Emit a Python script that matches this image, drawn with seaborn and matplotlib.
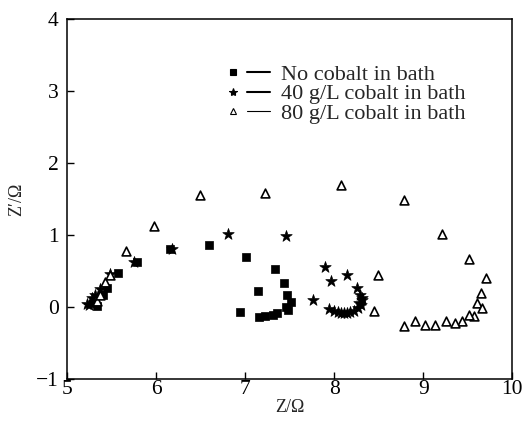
import numpy as np
import pandas as pd
import matplotlib
matplotlib.use("Agg")
import matplotlib.pyplot as plt
import seaborn as sns
from matplotlib.lines import Line2D
from matplotlib.legend_handler import HandlerBase

# Nyquist data (Z / Ohm, Z' / Ohm)
no_co_x = [5.30, 5.33, 5.40, 5.45, 5.57, 5.78, 6.15, 6.59, 7.01, 7.33, 7.43, 7.47,
           7.51, 7.46, 7.48, 7.36, 7.31, 7.22, 7.15, 6.94, 7.14]
no_co_y = [0.06, 0.01, 0.17, 0.26, 0.47, 0.63, 0.80, 0.86, 0.69, 0.53, 0.33, 0.17,
           0.07, 0.00, -0.05, -0.09, -0.11, -0.12, -0.14, -0.07, 0.22]

co40_x = [5.22, 5.24, 5.28, 5.31, 5.37, 5.48, 5.75, 6.18, 6.81, 7.46, 7.90, 7.96,
          8.14, 8.25, 8.29, 8.31, 8.31, 8.30, 8.28, 8.27, 8.22, 8.18, 8.14, 8.11,
          8.07, 8.04, 8.00, 7.94, 7.76]
co40_y = [0.04, 0.02, 0.12, 0.16, 0.25, 0.46, 0.63, 0.80, 1.01, 0.98, 0.55, 0.36,
          0.44, 0.26, 0.16, 0.12, 0.09, 0.02, 0.05, -0.02, -0.06, -0.07, -0.08, -0.08,
          -0.08, -0.07, -0.06, -0.03, 0.10]

co80_x = [5.33, 5.37, 5.42, 5.48, 5.66, 5.98, 6.49, 7.22, 8.07, 8.78, 9.21, 9.51,
          9.70, 9.65, 9.60, 9.66, 9.57, 9.51, 9.43, 9.35, 9.25, 9.13, 9.02, 8.91,
          8.78, 8.49, 8.45]
co80_y = [0.08, 0.17, 0.35, 0.44, 0.78, 1.13, 1.56, 1.59, 1.70, 1.49, 1.02, 0.66,
          0.40, 0.19, 0.06, -0.01, -0.12, -0.11, -0.20, -0.23, -0.19, -0.25, -0.25, -0.19,
          -0.26, 0.45, -0.06]

labels = ["No cobalt in bath", "40 g/L cobalt in bath", "80 g/L cobalt in bath"]


class MarkerThenLine(HandlerBase):
    # small marker on the left, short line segment on the right
    def create_artists(self, legend, orig_handle, xdescent, ydescent, width,
                       height, fontsize, trans):
        mk, lw, fc, ms = orig_handle
        y = height / 2 - ydescent
        dot = Line2D([0.1 * width - xdescent], [y], marker=mk, linestyle='none',
                     markerfacecolor=fc, markeredgecolor='black', markersize=ms,
                     markeredgewidth=0.8, transform=trans)
        seg = Line2D([0.44 * width - xdescent, width - xdescent], [y, y],
                     color='black', linewidth=lw, transform=trans)
        return [dot, seg]


sns.set_style("white")
plt.rcParams['font.family'] = ['Liberation Serif', 'DejaVu Serif']

fig = plt.figure(figsize=(5.25, 4.28), dpi=100)
ax = fig.add_axes([0.128, 0.115, 0.848, 0.840])

sns.scatterplot(x=no_co_x, y=no_co_y, marker='s', s=26, color='black',
                edgecolor='black', linewidth=0.5, ax=ax)
sns.scatterplot(x=co40_x, y=co40_y, marker='*', s=75, color='black',
                edgecolor='black', linewidth=0.5, ax=ax)
sns.scatterplot(x=co80_x, y=co80_y, marker='^', s=40, color='white',
                edgecolor='black', linewidth=1.2, ax=ax)

ax.set_xlim(5, 10)
ax.set_ylim(-1, 4)
ax.set_xticks(range(5, 11))
ax.set_yticks(range(-1, 5))
ax.tick_params(direction='in', length=5, width=1, labelsize=15.5, colors='black',
               bottom=True, left=True, top=False, right=False)
ax.tick_params(axis='x', pad=1)
ax.tick_params(axis='y', pad=6)
for sp in ax.spines.values():
    sp.set_color('black')
    sp.set_linewidth(1.1)

ax.set_xlabel("Z/Ω", fontsize=13, labelpad=0)
ax.set_ylabel("Z′/Ω", fontsize=13, labelpad=8)

handles = [('s', 1.5, 'black', 4), ('*', 1.5, 'black', 6), ('^', 0.8, 'white', 4.5)]
ax.legend(handles, labels, handler_map={tuple: MarkerThenLine()},
          loc='upper left', bbox_to_anchor=(0.364, 0.875), frameon=False,
          fontsize=16, handlelength=1.85, handletextpad=0.5, labelspacing=-0.04,
          borderaxespad=0, borderpad=0)

fig.savefig("out.png", dpi=100)
